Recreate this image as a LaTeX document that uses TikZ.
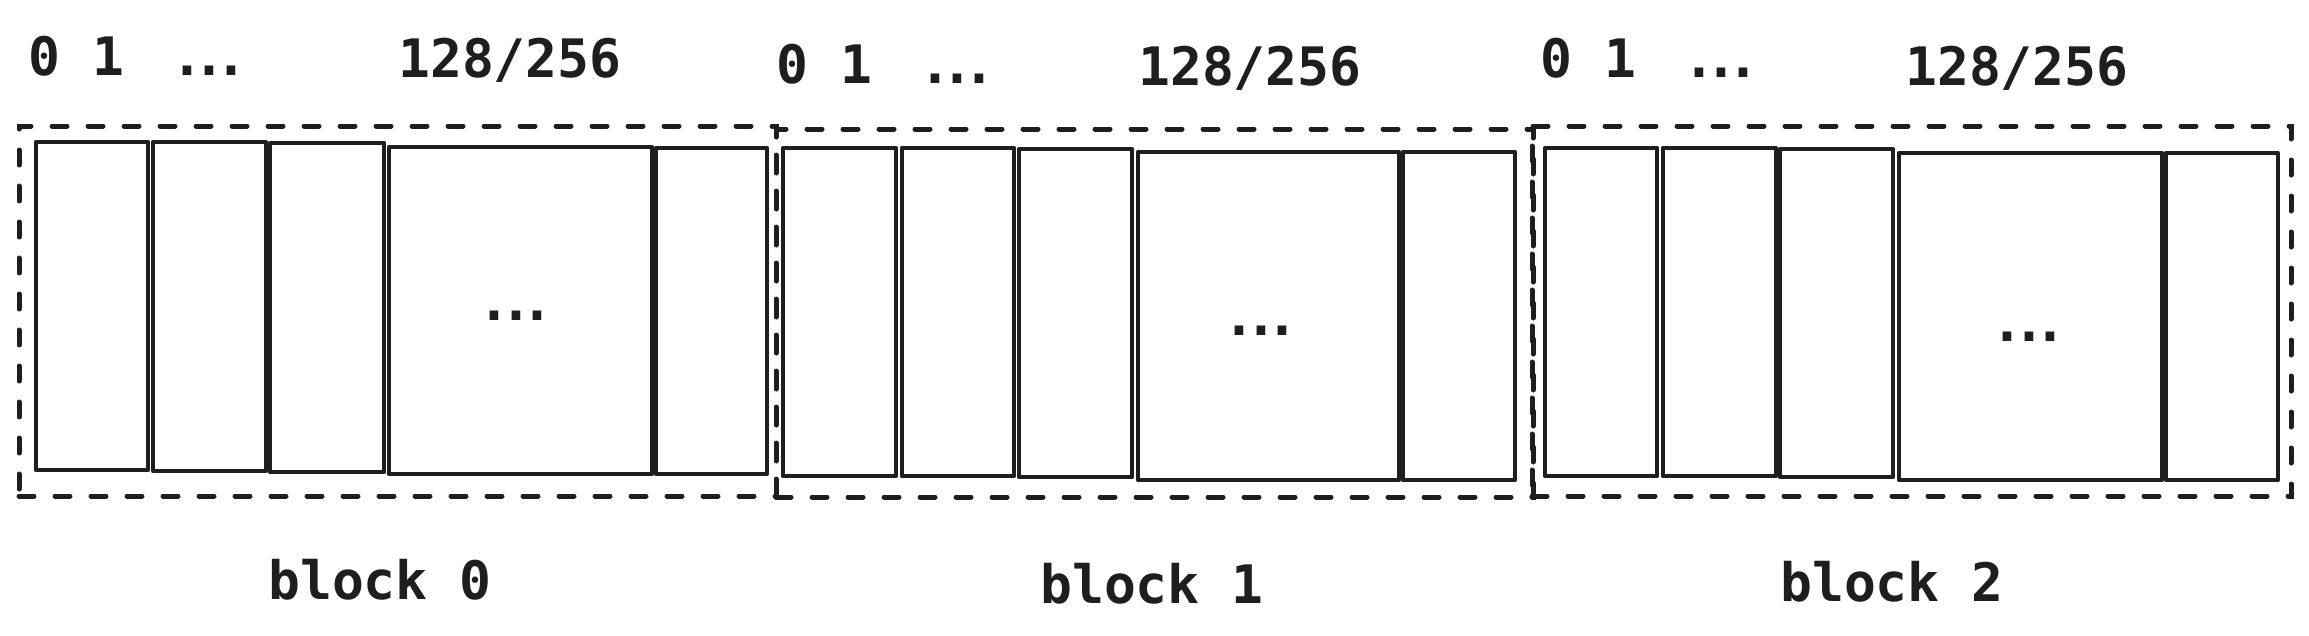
\documentclass[tikz,border=0pt]{standalone}
\usepackage{fontspec}
\setmonofont{DejaVu Sans Mono}[BoldFont=DejaVu Sans Mono Bold]
\usetikzlibrary{fit}
\definecolor{ink}{HTML}{1E1E1E}
\newcommand\tightdots{.\kern-10pt.\kern-10pt.}
\begin{document}
\begin{tikzpicture}[x=1pt,y=-1pt,
  cellbox/.style={draw=ink, line width=4.4pt, inner sep=0pt, rectangle, line join=round},
  blockbox/.style={draw=ink, line width=5pt, inner sep=0pt, rectangle, dash pattern=on 15pt off 21pt, line cap=round},
  lbl/.style={text=ink, inner sep=0pt, anchor=base west, font=\ttfamily\bfseries\fontsize{53}{60}\selectfont},
  dotlbl/.style={text=ink, inner sep=0pt, anchor=base, font=\ttfamily\bfseries\fontsize{53}{60}\selectfont}]
\useasboundingbox[fill=white] (0,0) rectangle (2309,635);

% ---- dashed block outlines
\node[blockbox, fit={(19,126) (776,496)}] (blk0) {};
\node[blockbox, fit={(776,129) (1533,497)}] (blk1) {};
\node[blockbox, fit={(1532,126) (2291,496)}] (blk2) {};

% ---- block 0 cells
\node[cellbox, fit={(36,142) (148,470)}] (a1) {};
\node[cellbox, fit={(153,142) (266,471)}] (a2) {};
\node[cellbox, fit={(270,143) (384,472)}] (a3) {};
\node[cellbox, fit={(389,147) (652,474)}] (a4) {};
\node[cellbox, fit={(656,148) (767,474)}] (a5) {};
% ---- block 1 cells
\node[cellbox, fit={(783,148) (896,476)}] (b1) {};
\node[cellbox, fit={(902,148) (1014,476)}] (b2) {};
\node[cellbox, fit={(1019,149) (1132,477)}] (b3) {};
\node[cellbox, fit={(1138,152) (1399,480)}] (b4) {};
\node[cellbox, fit={(1403,152) (1515,480)}] (b5) {};
% ---- block 2 cells
\node[cellbox, fit={(1545,148) (1657,476)}] (c1) {};
\node[cellbox, fit={(1663,148) (1776,476)}] (c2) {};
\node[cellbox, fit={(1780,149) (1893,477)}] (c3) {};
\node[cellbox, fit={(1899,153) (2162,480)}] (c4) {};
\node[cellbox, fit={(2166,153) (2278,480)}] (c5) {};

% ---- dots inside big cells
\node[dotlbl] (ad) at (516,320) {\tightdots};
\node[dotlbl] (bd) at (1261,335) {\tightdots};
\node[dotlbl] (cd) at (2029,341) {\tightdots};

% ---- top labels
\node[lbl] (t0a) at (28,75) {0 1 \kern16pt\tightdots};
\node[lbl] (t0b) at (398,77) {128/256};
\node[lbl] (t1a) at (776,83) {0 1 \kern16pt\tightdots};
\node[lbl] (t1b) at (1138,85) {128/256};
\node[lbl] (t2a) at (1540,77) {0 1 \kern16pt\tightdots};
\node[lbl] (t2b) at (1905,85) {128/256};

% ---- bottom labels
\node[lbl] (n0) at (268,599) {block 0};
\node[lbl] (n1) at (1040,603) {block 1};
\node[lbl] (n2) at (1780,601) {block 2};
\end{tikzpicture}
\end{document}
